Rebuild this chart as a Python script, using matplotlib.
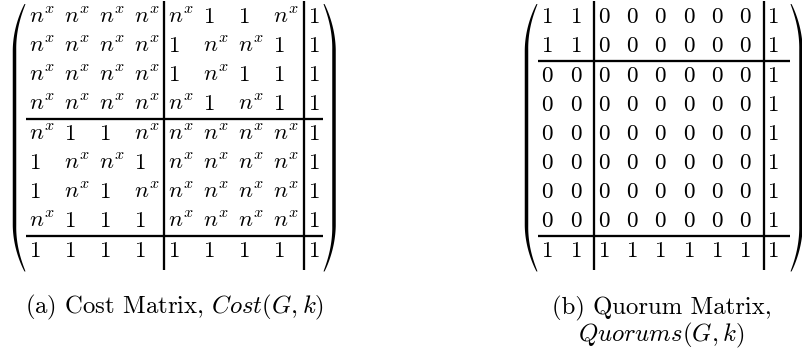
import numpy as np
import matplotlib
matplotlib.use("Agg")
import matplotlib.pyplot as plt
from matplotlib.patches import Polygon

plt.rcParams['mathtext.fontset'] = 'cm'

# cost matrix entries, 'n' stands for n^x
cost_rows = [
    ['n', 'n', 'n', 'n', 'n', '1', '1', 'n', '1'],
    ['n', 'n', 'n', 'n', '1', 'n', 'n', '1', '1'],
    ['n', 'n', 'n', 'n', '1', 'n', '1', '1', '1'],
    ['n', 'n', 'n', 'n', 'n', '1', 'n', '1', '1'],
    ['n', '1', '1', 'n', 'n', 'n', 'n', 'n', '1'],
    ['1', 'n', 'n', '1', 'n', 'n', 'n', 'n', '1'],
    ['1', 'n', '1', 'n', 'n', 'n', 'n', 'n', '1'],
    ['n', '1', '1', '1', 'n', 'n', 'n', 'n', '1'],
    ['1', '1', '1', '1', '1', '1', '1', '1', '1'],
]
cost_vsplit = [4, 8]
cost_hsplit = [4, 8]

quorum_rows = [
    [1, 1, 0, 0, 0, 0, 0, 0, 1],
    [1, 1, 0, 0, 0, 0, 0, 0, 1],
    [0, 0, 0, 0, 0, 0, 0, 0, 1],
    [0, 0, 0, 0, 0, 0, 0, 0, 1],
    [0, 0, 0, 0, 0, 0, 0, 0, 1],
    [0, 0, 0, 0, 0, 0, 0, 0, 1],
    [0, 0, 0, 0, 0, 0, 0, 0, 1],
    [0, 0, 0, 0, 0, 0, 0, 0, 1],
    [1, 1, 1, 1, 1, 1, 1, 1, 1],
]
quorum_vsplit = [2, 8]
quorum_hsplit = [2, 8]

cap_a = r'(a) Cost Matrix, $Cost(G,k)$'
cap_b = [r'(b) Quorum Matrix,', r'$Quorums(G,k)$']

FS = 16.6      # matrix entries
FS_CAP = 17.8  # captions
LW = 1.65

fig = plt.figure(figsize=(8.03, 3.56), dpi=100)
ax = fig.add_axes([0, 0, 1, 1])
ax.set_xlim(0, 803)
ax.set_ylim(356, 0)
ax.axis('off')


def paren(ax, x_tip, x_mid, y0, y1, L=46, tmin=0.9, tmax=3.5):
    # filled bracket shape, thin at the tips and thick in the middle
    ys = np.linspace(y0, y1, 300)
    d = np.minimum(ys - y0, y1 - ys)
    s = np.clip(d / L, 0, 1)
    xc = x_mid + (x_tip - x_mid) * (1 - s) ** 2
    t = tmin + (tmax - tmin) * s ** 0.6
    sgn = 1 if x_tip > x_mid else -1
    outer = xc - sgn * t / 2
    inner = xc + sgn * t / 2
    pts = np.concatenate([np.column_stack([outer, ys]),
                          np.column_stack([inner[::-1], ys[::-1]])])
    ax.add_patch(Polygon(pts, closed=True, fc='black', ec='none'))


def draw_matrix(ax, rows, vsplit, hsplit, x0, pitch, vgap, box, fmt):
    nrows = len(rows)
    ybase = []
    extra = 0
    for i in range(nrows):
        if i in hsplit:
            extra += 1
        ybase.append(23.3 + 29 * i + extra)
    xs = [x0 + pitch * j - (vgap if j >= vsplit[0] else 0) for j in range(len(rows[0]))]
    for i, row in enumerate(rows):
        for j, v in enumerate(row):
            ax.text(xs[j], ybase[i], fmt(v), fontsize=FS, ha='left', va='baseline')
    for h in hsplit:
        y = ybase[h - 1] + 9
        ax.plot([box[0] + 1, box[1] - 1], [y, y], color='black', lw=LW, solid_capstyle='butt')
    for v in vsplit:
        x = xs[v] - 3.8
        ax.plot([x, x], [0.5, 270], color='black', lw=LW, solid_capstyle='butt')
    paren(ax, box[0], box[0] - 10.5, 4, 271.5)
    paren(ax, box[1], box[1] + 10, 4, 271.5)


draw_matrix(ax, cost_rows, cost_vsplit, cost_hsplit, 29.0, 35, 1.0, (25, 324),
            lambda v: r'$n^x$' if v == 'n' else r'$1$')
draw_matrix(ax, quorum_rows, quorum_vsplit, quorum_hsplit, 541.5, 28.25, 0.0, (537, 791),
            lambda v: r'$%d$' % v)

ax.text(175, 313, cap_a, fontsize=FS_CAP, family='cmr10', ha='center', va='baseline')
ax.text(662, 314, cap_b[0], fontsize=FS_CAP, family='cmr10', ha='center', va='baseline')
ax.text(661, 341, cap_b[1], fontsize=FS_CAP, family='cmr10', ha='center', va='baseline')

fig.savefig('out.png', dpi=100)
